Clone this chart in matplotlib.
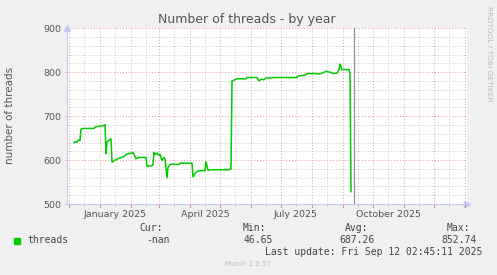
import matplotlib
matplotlib.use("Agg")
import matplotlib.pyplot as plt
import numpy as np
from datetime import datetime

# ---- data ----
dates = ["2024-12-06", "2024-12-08", "2024-12-09", "2024-12-10", "2024-12-12", "2024-12-13",
         "2024-12-15", "2024-12-26", "2024-12-27", "2024-12-31", "2025-01-05", "2025-01-06",
         "2025-01-07", "2025-01-08", "2025-01-10", "2025-01-12", "2025-01-13", "2025-01-16",
         "2025-01-20", "2025-01-25", "2025-01-28", "2025-02-02", "2025-02-03", "2025-02-06",
         "2025-02-09", "2025-02-16", "2025-02-17", "2025-02-19", "2025-02-22", "2025-02-23",
         "2025-02-24", "2025-02-25", "2025-02-27", "2025-03-01", "2025-03-02", "2025-03-04",
         "2025-03-06", "2025-03-07", "2025-03-09", "2025-03-10", "2025-03-12", "2025-03-16",
         "2025-03-17", "2025-03-21", "2025-03-22", "2025-04-03", "2025-04-04", "2025-04-06",
         "2025-04-08", "2025-04-11", "2025-04-16", "2025-04-17", "2025-04-19", "2025-04-23",
         "2025-05-10", "2025-05-11", "2025-05-12", "2025-05-13", "2025-05-16", "2025-05-18",
         "2025-05-27", "2025-05-28", "2025-06-07", "2025-06-09", "2025-06-11", "2025-06-14",
         "2025-06-16", "2025-06-22", "2025-06-23", "2025-07-17", "2025-07-18", "2025-07-26",
         "2025-07-27", "2025-08-05", "2025-08-08", "2025-08-10", "2025-08-15", "2025-08-19",
         "2025-08-22", "2025-08-26", "2025-08-28", "2025-08-29", "2025-08-31", "2025-09-07",
         "2025-09-08", "2025-09-09"]
threads = [640, 642, 640, 645, 645, 670,
           672, 672, 675, 677, 679, 681,
           614, 641, 645, 649, 595, 600,
           604, 608, 614, 616, 618, 603,
           606, 606, 585, 587, 587, 590,
           618, 613, 616, 610, 614, 599,
           606, 603, 559, 583, 590, 591,
           590, 590, 593, 593, 561, 570,
           574, 576, 576, 597, 577, 578,
           578, 580, 580, 780, 783, 785,
           785, 788, 788, 780, 784, 783,
           787, 787, 788, 788, 791, 794,
           797, 797, 796, 797, 802, 800,
           797, 798, 806, 819, 806, 806,
           796, 528]

x_start = "2024-11-29"
x_end = "2026-01-03"
now_date = "2025-09-12"
y_min, y_max = 500, 900
y_ticks = [500, 600, 700, 800, 900]
x_label_dates = ["2025-01-16", "2025-04-16", "2025-07-16", "2025-10-16"]
x_labels = ["January 2025", "April 2025", "July 2025", "October 2025"]

title = "Number of threads - by year"
ylabel = "number of threads"
legend_name = "threads"
stats_labels = ["Cur:", "Min:", "Avg:", "Max:"]
stats_values = ["-nan", "46.65", "687.26", "852.74"]
last_update = "Last update: Fri Sep 12 02:45:11 2025"
footer = "Munin 2.0.57"
side_text = "RRDTOOL / TOBI OETIKER"

# ---- figure ----
W, H = 497, 275
fig = plt.figure(figsize=(W / 100, H / 100), dpi=100, facecolor="#F0F0F0")
L, R, T, B = 67, 467, 28.3, 204
ax = fig.add_axes([L / W, 1 - B / H, (R - L) / W, (B - T) / H])
ax.set_facecolor("white")

def d(s):
    return datetime.strptime(s, "%Y-%m-%d")

xs = [d(s) for s in dates]
x0, x1 = d(x_start), d(x_end)
ax.set_xlim(x0, x1)
ax.set_ylim(y_min, y_max)

# grid: minor (gray) and major (red)
major_col = "#E49A9A"
minor_col = "#C8C8C8"
for v in np.arange(y_min, y_max, 20):
    if v % 100 != 0:
        ax.axhline(v, color=minor_col, lw=0.7, ls=(0, (1, 2)), zorder=1)
for v in y_ticks:
    ax.axhline(v, color=major_col, lw=0.7, ls=(0, (1, 2)), zorder=1.5)

month_starts = []
mid_months = []
cur = datetime(x0.year, x0.month, 1)
while cur <= x1:
    if cur >= x0:
        month_starts.append(cur)
    mid = cur.replace(day=16)
    if x0 <= mid <= x1:
        mid_months.append(mid)
    cur = datetime(cur.year + (cur.month // 12), cur.month % 12 + 1, 1)

for m in mid_months:
    ax.axvline(m, color=minor_col, lw=0.7, ls=(0, (1, 2)), zorder=1)
for m in month_starts:
    ax.axvline(m, color=major_col, lw=0.7, ls=(0, (1, 2)), zorder=1.5)

# data line
ax.plot(xs, threads, color="#00CC00", lw=1.1, zorder=3, solid_joinstyle="miter")

# now line
ax.axvline(d(now_date), color="#909090", lw=0.9, zorder=4)

# spines
for s in ["top", "right"]:
    ax.spines[s].set_visible(False)
for s in ["left", "bottom"]:
    ax.spines[s].set_color("#C8C8F0")
    ax.spines[s].set_linewidth(0.8)

# arrows
ax.plot([1.0], [0], marker=">", color="#C8C8F0", markersize=4, transform=ax.transAxes, clip_on=False)
ax.plot([0], [1.0], marker="^", color="#C8C8F0", markersize=4, transform=ax.transAxes, clip_on=False)

# ticks
ax.set_yticks(y_ticks)
ax.set_yticklabels([str(v) for v in y_ticks])
ax.tick_params(axis="y", length=2, width=0.6, color="#C8C8F0", labelsize=6.8,
               labelcolor="#555555", pad=2)
ax.set_xticks([d(s) for s in x_label_dates])
ax.set_xticklabels(x_labels)
ax.tick_params(axis="x", length=0, labelsize=6.8, labelcolor="#555555", pad=4)
for m in month_starts:
    ax.plot([m, m], [0, -0.015], color="#E07070", lw=0.6,
            transform=ax.get_xaxis_transform(), clip_on=False)
for m in mid_months:
    ax.plot([m, m], [0, -0.012], color="#BBBBBB", lw=0.6,
            transform=ax.get_xaxis_transform(), clip_on=False)

# texts
fig.text(247 / W, 1 - 19 / H, title, ha="center", va="center", fontsize=9, color="#555555")
fig.text(10 / W, 1 - 115 / H, ylabel, ha="center", va="center", rotation=90,
         fontsize=7.5, color="#555555")
fig.text(489 / W, 1 - 54 / H, side_text, ha="center", va="center", rotation=270,
         fontsize=5.4, color="#BBBBBB")

mono = "DejaVu Sans Mono"
fs = 7
tc = "#444444"
# legend swatch
fig.patches.append(plt.Rectangle((14 / W, 1 - 243.5 / H), 6 / W, 6 / H,
                                 transform=fig.transFigure, color="#00CC00"))
fig.text(27 / W, 1 - 240 / H, legend_name, ha="left", va="center", family=mono, fontsize=fs, color=tc)
label_right = [163, 266, 368, 470]
value_right = [170, 273, 375, 477]
for lab, val, lx, vx in zip(stats_labels, stats_values, label_right, value_right):
    fig.text(lx / W, 1 - 228 / H, lab, ha="right", va="center", family=mono, fontsize=fs, color=tc)
    fig.text(vx / W, 1 - 240 / H, val, ha="right", va="center", family=mono, fontsize=fs, color=tc)
fig.text(482 / W, 1 - 252 / H, last_update, ha="right", va="center", family=mono, fontsize=fs, color=tc)
fig.text(248 / W, 1 - 264 / H, footer, ha="center", va="center", fontsize=5, color="#BBBBBB")

fig.savefig("out.png", dpi=100, facecolor=fig.get_facecolor())
